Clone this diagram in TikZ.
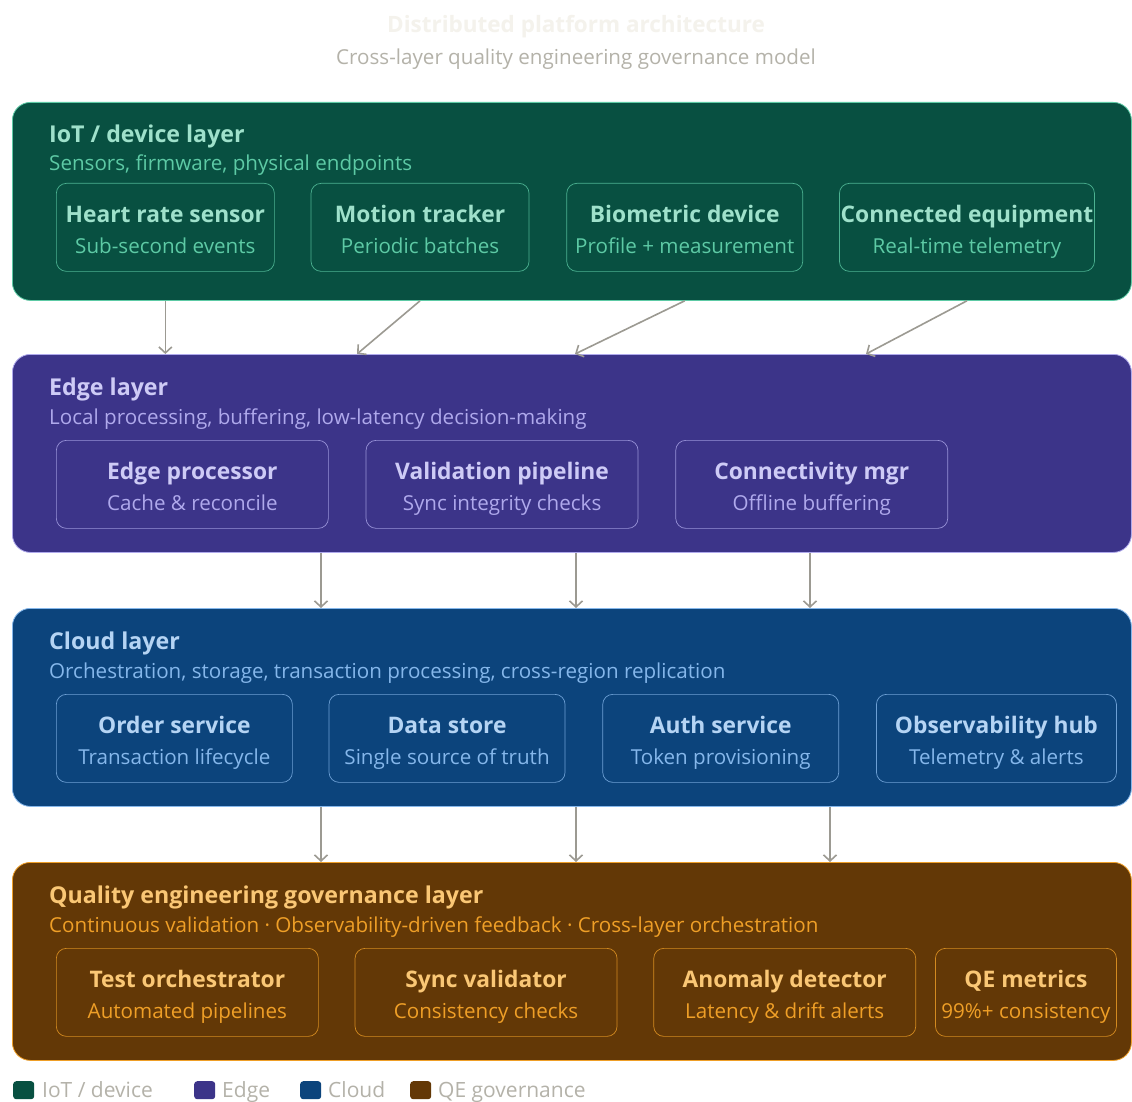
\documentclass[tikz,border=0pt]{standalone}
\usepackage{fontspec}
\setmainfont{Open Sans}
\usepackage{xcolor}
\usetikzlibrary{positioning, arrows.meta}
% layer palettes: fill, outline, heading, body text
\definecolor{iotbg}{HTML}{085041}
\definecolor{iotline}{HTML}{5DCAA5}
\definecolor{iothead}{HTML}{9FE1CB}
\definecolor{iottext}{HTML}{5DCAA5}
\definecolor{edgebg}{HTML}{3C3489}
\definecolor{edgeline}{HTML}{AFA9EC}
\definecolor{edgehead}{HTML}{CECBF6}
\definecolor{edgetext}{HTML}{AFA9EC}
\definecolor{cloudbg}{HTML}{0C447C}
\definecolor{cloudline}{HTML}{85B7EB}
\definecolor{cloudhead}{HTML}{B5D4F4}
\definecolor{cloudtext}{HTML}{85B7EB}
\definecolor{qebg}{HTML}{633806}
\definecolor{qeline}{HTML}{EF9F27}
\definecolor{qehead}{HTML}{FAC775}
\definecolor{qetext}{HTML}{EF9F27}
\definecolor{flowgray}{HTML}{9C9A92}
\definecolor{mutedgray}{HTML}{B4B2A9}
\definecolor{faintgray}{HTML}{F4F2EC}

% two-line box label; the rules keep every box's lines at the same height
\newcommand{\unitlabel}[2]{\rule{0pt}{26pt}#1\\%
  {\fontsize{20.6}{31}\selectfont\mdseries\color{unitsub}\rule[-5.6pt]{0pt}{5.6pt}#2}}

\tikzset{
  layer/.style={rounded corners=18pt, line width=0.8pt, minimum width=1119pt,
                minimum height=198pt, anchor=north west, inner sep=0pt},
  unit/.style={rounded corners=10pt, line width=0.7pt, minimum height=88pt,
               align=center, inner sep=0pt, font=\fontsize{22.8}{31}\selectfont\bfseries},
  ltitle/.style={anchor=base west, inner sep=0pt, font=\fontsize{23.2}{27}\selectfont\bfseries},
  lsub/.style={anchor=base west, inner sep=0pt, font=\fontsize{20.6}{24}\selectfont},
  flow/.style={draw=flowgray, line width=1.6pt, -{Straight Barb[length=6pt, width=13pt]}},
  swatch/.style={rounded corners=3pt, minimum width=21pt, minimum height=18pt,
                 inner sep=0pt, anchor=north west},
  legend/.style={anchor=base west, inner sep=0pt, text=mutedgray,
                 font=\fontsize{21}{25}\selectfont},
}

\begin{document}
\begin{tikzpicture}[x=1pt, y=-1pt]
  \useasboundingbox[fill=white] (0,0) rectangle (1132,1102);

  % heading
  \node[anchor=base, inner sep=0pt, text=faintgray, font=\fontsize{22.5}{27}\selectfont\bfseries]
    (title) at (576,33) {Distributed platform architecture};
  \node[anchor=base, inner sep=0pt, text=mutedgray, font=\fontsize{20.6}{24}\selectfont]
    (subtitle) at (576,65) {Cross-layer quality engineering governance model};

  % IoT / device layer
  \begin{scope}
    \colorlet{unitsub}{iottext}
    \node[layer, fill=iotbg, draw=iotline] (iot) at (12,102) {};
    \node[ltitle, text=iothead] (iottitle) at ([shift={(37,41)}]iot.north west) {IoT / device layer};
    \node[lsub, text=iottext] (iotsub) at ([shift={(37,69)}]iot.north west) {Sensors, firmware, physical endpoints};
    \node[unit, draw=iotline!80!iotbg, text=iothead, minimum width=218pt, anchor=north west] (hrs) at (56,183)
      {\unitlabel{Heart rate sensor}{Sub-second events}};
    \node[unit, draw=iotline!80!iotbg, text=iothead, minimum width=218pt, right=36pt of hrs] (motion)
      {\unitlabel{Motion tracker}{Periodic batches}};
    \node[unit, draw=iotline!80!iotbg, text=iothead, minimum width=236pt, right=37pt of motion] (bio)
      {\unitlabel{Biometric device}{Profile + measurement}};
    \node[unit, draw=iotline!80!iotbg, text=iothead, minimum width=255pt, right=36pt of bio] (equip)
      {\unitlabel{Connected equipment}{Real-time telemetry}};
  \end{scope}

  % Edge layer
  \begin{scope}
    \colorlet{unitsub}{edgetext}
    \node[layer, fill=edgebg, draw=edgeline] (edge) at (12,354) {};
    \node[ltitle, text=edgehead] (edgetitle) at ([shift={(37,41)}]edge.north west) {Edge layer};
    \node[lsub, text=edgetext] (edgesub) at ([shift={(37,70)}]edge.north west) {Local processing, buffering, low-latency decision-making};
    \node[unit, draw=edgeline!80!edgebg, text=edgehead, minimum width=272pt, anchor=north west] (eproc) at (56,440)
      {\unitlabel{Edge processor}{Cache \& reconcile}};
    \node[unit, draw=edgeline!80!edgebg, text=edgehead, minimum width=272pt, right=37pt of eproc] (valid)
      {\unitlabel{Validation pipeline}{Sync integrity checks}};
    \node[unit, draw=edgeline!80!edgebg, text=edgehead, minimum width=272pt, right=37pt of valid] (conn)
      {\unitlabel{Connectivity mgr}{Offline buffering}};
  \end{scope}

  % Cloud layer
  \begin{scope}
    \colorlet{unitsub}{cloudtext}
    \node[layer, fill=cloudbg, draw=cloudline] (cloud) at (12,608) {};
    \node[ltitle, text=cloudhead] (cloudtitle) at ([shift={(37,41)}]cloud.north west) {Cloud layer};
    \node[lsub, text=cloudtext] (cloudsub) at ([shift={(37,70)}]cloud.north west) {Orchestration, storage, transaction processing, cross-region replication};
    \node[unit, draw=cloudline!80!cloudbg, text=cloudhead, minimum width=236pt, anchor=north west] (order) at (56,694)
      {\unitlabel{Order service}{Transaction lifecycle}};
    \node[unit, draw=cloudline!80!cloudbg, text=cloudhead, minimum width=236pt, right=36pt of order] (store)
      {\unitlabel{Data store}{Single source of truth}};
    \node[unit, draw=cloudline!80!cloudbg, text=cloudhead, minimum width=236pt, right=37pt of store] (auth)
      {\unitlabel{Auth service}{Token provisioning}};
    \node[unit, draw=cloudline!80!cloudbg, text=cloudhead, minimum width=240pt, right=37pt of auth] (obs)
      {\unitlabel{Observability hub}{Telemetry \& alerts}};
  \end{scope}

  % Quality engineering governance layer
  \begin{scope}
    \colorlet{unitsub}{qetext}
    \node[layer, fill=qebg, draw=qeline] (qe) at (12,862) {};
    \node[ltitle, text=qehead] (qetitle) at ([shift={(37,41)}]qe.north west) {Quality engineering governance layer};
    \node[lsub, text=qetext] (qesub) at ([shift={(37,70)}]qe.north west) {Continuous validation · Observability-driven feedback · Cross-layer orchestration};
    \node[unit, draw=qeline!80!qebg, text=qehead, minimum width=262pt, anchor=north west] (orch) at (56,948)
      {\unitlabel{Test orchestrator}{Automated pipelines}};
    \node[unit, draw=qeline!80!qebg, text=qehead, minimum width=262pt, right=36pt of orch] (syncv)
      {\unitlabel{Sync validator}{Consistency checks}};
    \node[unit, draw=qeline!80!qebg, text=qehead, minimum width=262pt, right=36pt of syncv] (anom)
      {\unitlabel{Anomaly detector}{Latency \& drift alerts}};
    \node[unit, draw=qeline!80!qebg, text=qehead, minimum width=181pt, right=19pt of anom] (qem)
      {\unitlabel{QE metrics}{99\%+ consistency}};
  \end{scope}

  % flows between layers
  \coordinate (inmotion) at (357,0);
  \coordinate (inbio) at (575,0);
  \coordinate (inequip) at (866,0);
  \draw[flow] (hrs |- iot.south) -- (hrs |- edge.north);
  \draw[flow] (motion |- iot.south) -- (inmotion |- edge.north);
  \draw[flow] (bio |- iot.south) -- (inbio |- edge.north);
  \draw[flow] (equip |- iot.south) -- (inequip |- edge.north);
  \foreach \x [count=\i] in {321,576,810} {
    \coordinate (ec\i) at (\x,0);
    \draw[flow] (ec\i |- edge.south) -- (ec\i |- cloud.north);
  }
  \foreach \x [count=\i] in {321,576,830} {
    \coordinate (cq\i) at (\x,0);
    \draw[flow] (cq\i |- cloud.south) -- (cq\i |- qe.north);
  }

  % legend
  \node[swatch, fill=iotbg] (keyiot) at (13,1081) {};
  \node[legend] (keyiottext) at (42,1097) {IoT / device};
  \node[swatch, fill=edgebg] (keyedge) at (194,1081) {};
  \node[legend] (keyedgetext) at (222,1097) {Edge};
  \node[swatch, fill=cloudbg] (keycloud) at (300,1081) {};
  \node[legend] (keycloudtext) at (328,1097) {Cloud};
  \node[swatch, fill=qebg] (keyqe) at (410,1081) {};
  \node[legend] (keyqetext) at (438,1097) {QE governance};
\end{tikzpicture}
\end{document}
